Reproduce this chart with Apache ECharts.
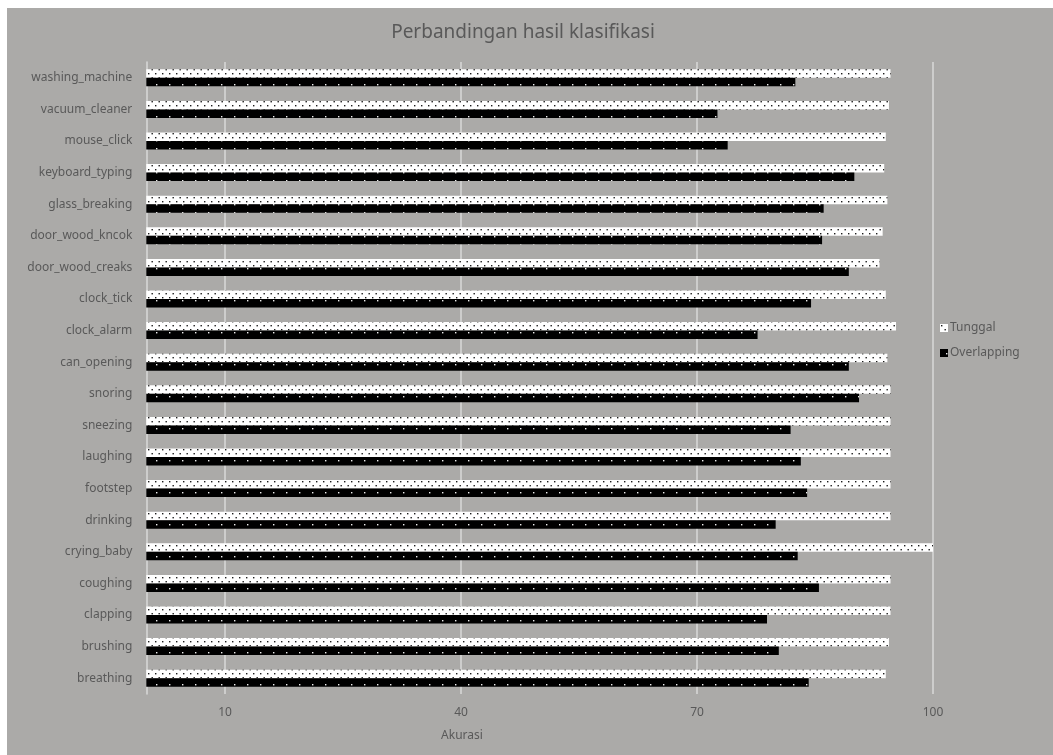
<!DOCTYPE html>
<html>
<head>
<meta charset="utf-8">
<style>
  html, body { margin: 0; padding: 0; background: #ffffff; }
  #chart { position: absolute; left: 7px; top: 8px; width: 1046px; height: 747px; }
</style>
<script src="https://cdn.jsdelivr.net/npm/echarts@6/dist/echarts.min.js"></script>
</head>
<body>
<div id="chart"></div>
<script>
// Sound classes, listed top to bottom
const categories = [
  'washing_machine', 'vacuum_cleaner', 'mouse_click', 'keyboard_typing',
  'glass_breaking', 'door_wood_kncok', 'door_wood_creaks', 'clock_tick',
  'clock_alarm', 'can_opening', 'snoring', 'sneezing', 'laughing',
  'footstep', 'drinking', 'crying_baby', 'coughing', 'clapping',
  'brushing', 'breathing'
];

// Accuracy for single-source recordings
const tunggal = [
  94.6, 94.4, 94.0, 93.8, 94.2, 93.6, 93.2, 94.0, 95.3, 94.2,
  94.6, 94.6, 94.6, 94.6, 94.6, 100.0, 94.6, 94.6, 94.4, 94.0
];

// Accuracy for overlapping recordings
const overlapping = [
  82.5, 72.6, 73.9, 90.0, 86.1, 85.9, 89.3, 84.5, 77.7, 89.3,
  90.6, 81.9, 83.2, 84.0, 80.0, 82.8, 85.5, 78.9, 80.4, 84.2
];

// Labelled ticks of the accuracy axis
const tickValues = [10, 40, 70, 100];

const seriesNames = ['Tunggal', 'Overlapping'];

// Dotted fill patterns
function dotPattern(bg, fg, w, h, dots) {
  const c = document.createElement('canvas');
  c.width = w; c.height = h;
  const g = c.getContext('2d');
  g.fillStyle = bg;
  g.fillRect(0, 0, w, h);
  g.fillStyle = fg;
  dots.forEach(d => g.fillRect(d[0], d[1], 1.4, 1.4));
  return { image: c, repeat: 'repeat' };
}
const whiteDots = dotPattern('#ffffff', '#1a1a1a', 7, 8, [[1, 1], [4.5, 5]]);
const blackDots = dotPattern('#000000', '#f0f0f0', 13, 8, [[6, 4]]);

const textGray = '#595959';
const font = '"Noto Sans", "Open Sans", sans-serif';

const chart = echarts.init(document.getElementById('chart'));
chart.setOption({
  backgroundColor: '#abaaa8',
  animation: false,
  title: {
    text: 'Perbandingan hasil klasifikasi',
    left: 511,
    top: 10,
    textAlign: 'center',
    textStyle: { color: textGray, fontSize: 19, fontWeight: 'normal', fontFamily: font }
  },
  legend: {
    data: seriesNames,
    orient: 'vertical',
    left: 928,
    top: 309,
    itemWidth: 8,
    itemHeight: 8,
    itemGap: 13,
    icon: 'rect',
    textStyle: { color: textGray, fontSize: 12, fontFamily: font, padding: [0, 0, 0, -3] }
  },
  grid: [
    { left: 139.3, right: 120, top: 54, bottom: 61 },
    { left: 218, right: 120, top: 54, bottom: 61 }
  ],
  graphic: [{
    type: 'text',
    x: 455, y: 728,
    style: {
      text: 'Akurasi', textAlign: 'center', textVerticalAlign: 'middle',
      fill: textGray, font: '12px ' + font
    }
  }],
  xAxis: [
    { type: 'value', gridIndex: 0, min: 0, max: 100, show: false },
    {
      type: 'value', gridIndex: 1, min: tickValues[0], max: tickValues[tickValues.length - 1],
      interval: tickValues[1] - tickValues[0],
      axisLine: { show: false }, axisTick: { show: false },
      axisLabel: { color: textGray, fontSize: 12, fontFamily: font, margin: 13 },
      splitLine: { show: true, lineStyle: { color: '#d9d9d9', width: 1.5 } }
    }
  ],
  yAxis: [
    {
      type: 'category', gridIndex: 0, data: categories, inverse: true,
      axisLine: { show: true, lineStyle: { color: '#d9d9d9', width: 1.5 } },
      axisTick: { show: false },
      axisLabel: { color: textGray, fontSize: 12, fontFamily: font, margin: 14 },
      splitLine: { show: false }
    },
    { type: 'value', gridIndex: 1, show: false }
  ],
  series: [
    {
      name: 'Tunggal', type: 'bar', xAxisIndex: 0, yAxisIndex: 0,
      data: tunggal, barWidth: 8.5, barGap: '0%',
      itemStyle: { color: whiteDots }
    },
    {
      name: 'Overlapping', type: 'bar', xAxisIndex: 0, yAxisIndex: 0,
      data: overlapping, barWidth: 8.5, barGap: '0%',
      itemStyle: { color: blackDots }
    }
  ]
});
</script>
</body>
</html>
